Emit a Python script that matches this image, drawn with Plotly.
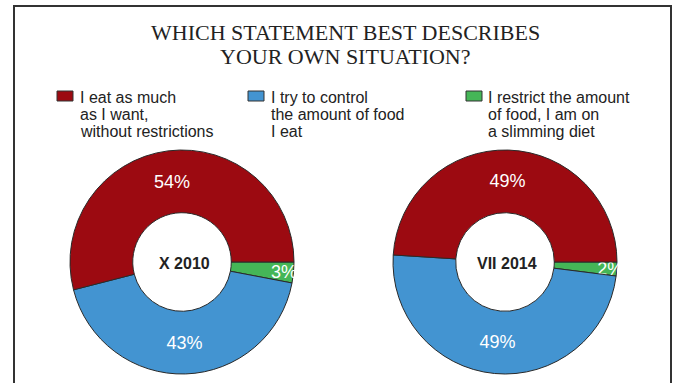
import plotly.graph_objects as go

# Survey answers and their share per wave (percent)
answers = [
    "I eat as much as I want, without restrictions",
    "I try to control the amount of food I eat",
    "I restrict the amount of food, I am on a slimming diet",
]
legend_lines = [
    ["I eat as much", "as I want,", "without restrictions"],
    ["I try to control", "the amount of food", "I eat"],
    ["I restrict the amount", "of food, I am on", "a slimming diet"],
]
waves = ["X 2010", "VII 2014"]
shares_2010 = [54, 43, 3]
shares_2014 = [49, 49, 2]
colors = ["#9c0a11", "#4394d1", "#45b657"]

W, H = 677, 383


def px(x):
    return x / W


def py(y):
    return 1 - y / H


fig = go.Figure()

# Slices run clockwise from 3 o'clock in reverse order, so the last answer
# sits just below the horizontal and the first wraps over the top.
pie_boxes = [(182, 262, 112), (505, 262, 112)]
for wave, shares, (cx, cy, r) in zip(waves, [shares_2010, shares_2014], pie_boxes):
    fig.add_trace(go.Pie(
        labels=answers[::-1],
        values=shares[::-1],
        name=wave,
        sort=False,
        direction="clockwise",
        rotation=90,
        hole=0.44,
        marker=dict(colors=colors[::-1], line=dict(color="#2a2a2a", width=1)),
        texttemplate="%{value}%",
        textposition="inside",
        insidetextorientation="horizontal",
        textfont=dict(family="Liberation Sans, Arial", size=18, color="white"),
        hoverinfo="label+percent",
        showlegend=False,
        domain=dict(x=[px(cx - r), px(cx + r)], y=[py(cy + r), py(cy - r)]),
    ))

annotations = []

# Two-line title
for text, base in [("WHICH STATEMENT BEST DESCRIBES", 40), ("YOUR OWN SITUATION?", 64)]:
    annotations.append(dict(
        text=text, x=px(345), y=py(base - 7), xref="paper", yref="paper",
        xanchor="center", yanchor="middle", showarrow=False,
        font=dict(family="Liberation Serif, Times New Roman", size=22, color="#222222"),
    ))

# Wave labels in the donut holes
for wave, (cx, cy, r) in zip(waves, pie_boxes):
    annotations.append(dict(
        text=f"<b>{wave}</b>", x=px(cx + 2), y=py(cy + 1), xref="paper", yref="paper",
        xanchor="center", yanchor="middle", showarrow=False,
        font=dict(family="Liberation Sans, Arial", size=16, color="#222222"),
    ))

# Legend: colour key plus wrapped label
shapes = []
key_x = [57, 248, 466]
text_x = [78, 269, 486]
for lines, color, kx, tx in zip(legend_lines, colors, key_x, text_x):
    shapes.append(dict(
        type="rect", xref="paper", yref="paper",
        x0=px(kx), x1=px(kx + 16), y0=py(101), y1=py(91),
        fillcolor=color, line=dict(color="#333333", width=1),
    ))
    for i, line in enumerate(lines):
        annotations.append(dict(
            text=line, x=px(tx), y=py(97 + i * 17.5), xref="paper", yref="paper",
            xanchor="left", yanchor="middle", showarrow=False,
            font=dict(family="Liberation Sans, Arial", size=16, color="#222222"),
        ))

# Frame open at the bottom
shapes.append(dict(
    type="path", xref="paper", yref="paper",
    path=f"M {px(14)},{py(400)} L {px(14)},{py(6)} L {px(671)},{py(6)} L {px(671)},{py(400)}",
    line=dict(color="#333333", width=2),
))

fig.update_layout(
    width=W, height=H,
    margin=dict(l=0, r=0, t=0, b=0),
    paper_bgcolor="white",
    plot_bgcolor="white",
    uniformtext=dict(minsize=18, mode="show"),
    annotations=annotations,
    shapes=shapes,
)

fig.write_html("out.html")
